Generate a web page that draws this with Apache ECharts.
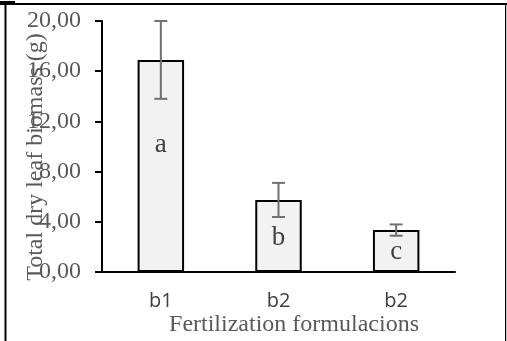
<!DOCTYPE html>
<html>
<head>
<meta charset="utf-8">
<script src="https://cdn.jsdelivr.net/npm/echarts@6/dist/echarts.min.js"></script>
<style>html,body{margin:0;padding:0;background:#fff}#c{width:507px;height:341px}</style>
</head>
<body>
<div id="c"></div>
<script>
const categories = ['b1', 'b2', 'b2'];
const means = [16.9, 5.74, 3.34];
const errors = [3.1, 1.36, 0.45];
const letters = ['a', 'b', 'c'];
const letterPos = [['50%', '40%'], ['50%', '53%'], ['50%', '51%']];
const yTicks = [0, 4, 8, 12, 16, 20];

const chart = echarts.init(document.getElementById('c'), null, {renderer: 'canvas'});
chart.setOption({
  animation: false,
  grid: {left: 102, right: 52, top: 21, bottom: 69, containLabel: false},
  xAxis: {
    type: 'category', data: categories,
    axisLine: {lineStyle: {color: '#000', width: 2}},
    axisTick: {show: false},
    axisLabel: {color: '#404040', fontFamily: 'Open Sans', fontSize: 20, margin: 19}
  },
  yAxis: {
    type: 'value', min: yTicks[0], max: yTicks[yTicks.length - 1], interval: 4,
    axisLine: {show: true, lineStyle: {color: '#000', width: 2}},
    axisTick: {show: true, length: 7, lineStyle: {color: '#000', width: 2}},
    splitLine: {show: false},
    axisLabel: {color: '#595959', fontFamily: 'Liberation Serif', fontSize: 24, margin: 21,
      formatter: v => v.toFixed(2).replace('.', ',')}
  },
  series: [
    {
      type: 'bar', barWidth: '39.5%',
      data: means.map((v, i) => ({
        value: v,
        label: {show: true, formatter: letters[i], position: letterPos[i]}
      })),
      itemStyle: {color: '#f2f2f2', borderColor: '#000', borderWidth: 2},
      label: {color: '#404040', fontFamily: 'Liberation Serif', fontSize: 27, align: 'center', verticalAlign: 'middle'},
      z: 2
    },
    {
      type: 'custom', z: 5,
      data: means.map((v, i) => [i, v - errors[i], v + errors[i]]),
      renderItem: function (params, api) {
        const lo = api.coord([api.value(0), api.value(1)]);
        const hi = api.coord([api.value(0), api.value(2)]);
        const hw = 6.5;
        const st = {stroke: '#707070', lineWidth: 2};
        return {type: 'group', children: [
          {type: 'line', shape: {x1: lo[0], y1: lo[1], x2: hi[0], y2: hi[1]}, style: st},
          {type: 'line', shape: {x1: lo[0] - hw, y1: lo[1], x2: lo[0] + hw, y2: lo[1]}, style: st},
          {type: 'line', shape: {x1: hi[0] - hw, y1: hi[1], x2: hi[0] + hw, y2: hi[1]}, style: st}
        ]};
      }
    }
  ],
  graphic: {elements: [
    {type: 'text', x: 36, y: 157, rotation: Math.PI / 2,
      style: {text: 'Total dry leaf biomass (g)', fill: '#595959', font: '24px "Liberation Serif"', align: 'center', verticalAlign: 'middle'}},
    {type: 'text', x: 294, y: 325,
      style: {text: 'Fertilization formulacions', fill: '#595959', font: '24px "Liberation Serif"', align: 'center', verticalAlign: 'middle'}},
    {type: 'rect', z: 10, shape: {x: 0, y: 3, width: 507, height: 2}, style: {fill: '#000'}},
    {type: 'rect', z: 10, shape: {x: 0, y: 1, width: 15, height: 3}, style: {fill: '#000'}},
    {type: 'rect', z: 10, shape: {x: 462, y: 3, width: 45, height: 2}, style: {fill: '#000'}},
    {type: 'rect', z: 10, shape: {x: 4.5, y: 1, width: 2, height: 340}, style: {fill: '#000'}},
    {type: 'rect', z: 10, shape: {x: 505, y: 3, width: 1.2, height: 338}, style: {fill: '#000'}}
  ]}
});
</script>
</body>
</html>
